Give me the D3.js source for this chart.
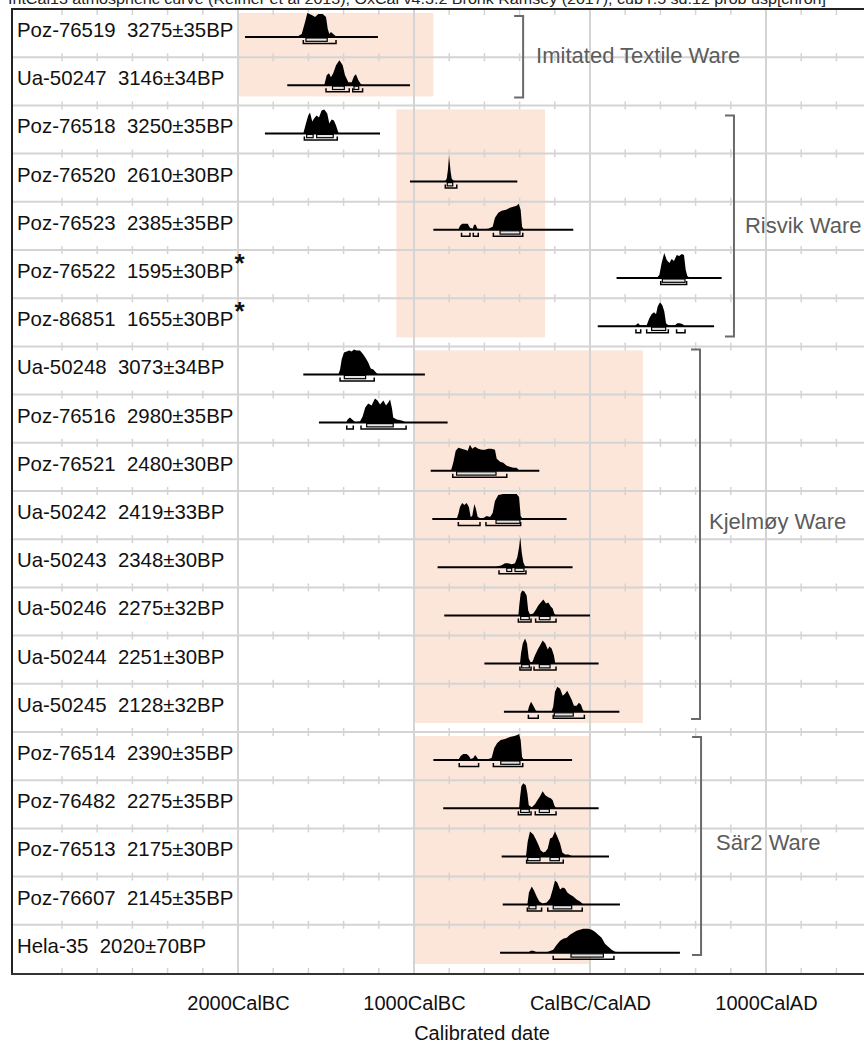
<!DOCTYPE html>
<html><head><meta charset="utf-8">
<script src="https://cdn.jsdelivr.net/npm/d3@7/dist/d3.min.js"></script>
<style>
body{margin:0;background:#fff}
svg{display:block}
text{font-family:"Liberation Sans",Arial,Helvetica,sans-serif}
</style>
</head><body>
<svg id="chart" width="864" height="1046"></svg>
<script>
// ---------- data ----------
const titleText = "IntCal13 atmospheric curve (Reimer et al 2013); OxCal v4.3.2 Bronk Ramsey (2017); cub r:5 sd:12 prob usp[chron]";
const sampleIds = ["Poz-76519","Ua-50247","Poz-76518","Poz-76520","Poz-76523","Poz-76522","Poz-86851",
  "Ua-50248","Poz-76516","Poz-76521","Ua-50242","Ua-50243","Ua-50246","Ua-50244","Ua-50245",
  "Poz-76514","Poz-76482","Poz-76513","Poz-76607","Hela-35"];
const bpDates = ["3275±35BP","3146±34BP","3250±35BP","2610±30BP","2385±35BP","1595±30BP","1655±30BP",
  "3073±34BP","2980±35BP","2480±30BP","2419±33BP","2348±30BP","2275±32BP","2251±30BP","2128±32BP",
  "2390±35BP","2275±35BP","2175±30BP","2145±35BP","2020±70BP"];
const flaggedRows = [5, 6];

// plotted span of each calibrated distribution (calendar years, negative = BC)
const spans = [[-1960,-1205],[-1720,-1023],[-1847,-1193],[-1023,-413],[-890,-95],[151,748],[44,705],
  [-1629,-938],[-1540,-809],[-905,-288],[-896,-133],[-866,-99],[-828,0],[-600,49],[-489,167],
  [-890,-102],[-834,49],[-502,108],[-496,170],[-511,511]];

// probability distributions: [year, relative probability]
const densities = [
  [[-1667,0],[-1638,3],[-1619,15],[-1606,24],[-1581,22],[-1562,20],[-1544,23],[-1519,23],[-1500,20],[-1490,8],[-1481,3],[-1472,5],[-1459,3],[-1439,0]],
  [[-1510,0],[-1496,10],[-1483,12],[-1472,8],[-1459,12],[-1443,20],[-1424,25],[-1405,20],[-1392,10],[-1373,3],[-1354,3],[-1341,9],[-1330,11],[-1316,5],[-1301,1],[-1288,0]],
  [[-1629,0],[-1614,10],[-1601,18],[-1591,21],[-1578,12],[-1568,15],[-1553,18],[-1540,16],[-1525,23],[-1510,24],[-1493,20],[-1481,10],[-1468,14],[-1455,13],[-1443,8],[-1430,1],[-1420,0]],
  [[-824,0],[-814,3],[-807,12],[-801,26],[-792,10],[-786,3],[-777,1],[-757,0]],
  [[-748,0],[-739,4],[-726,6],[-710,6],[-695,6],[-682,2],[-666,1],[-659,5],[-649,5],[-640,1],[-615,0.5],[-578,1],[-553,3],[-540,12],[-521,17],[-502,19],[-477,20],[-455,22],[-436,23],[-417,24],[-405,26],[-394,20],[-386,3],[-375,0]],
  [[379,0],[394,3],[407,15],[422,25],[436,18],[451,15],[464,19],[477,17],[493,23],[507,22],[521,24],[534,23],[544,8],[553,2],[568,0]],
  [[256,0],[265,2],[274,3],[284,1],[322,1],[337,8],[350,12],[364,14],[375,12],[385,20],[398,24],[411,21],[422,15],[432,3],[445,1],[483,1],[496,3],[511,3],[527,2],[540,0]],
  [[-1430,0],[-1420,5],[-1411,15],[-1398,22],[-1382,23],[-1368,24],[-1354,23],[-1341,25],[-1326,24],[-1307,24],[-1288,20],[-1273,16],[-1260,12],[-1246,6],[-1231,5],[-1216,2],[-1203,0]],
  [[-1386,0],[-1377,3],[-1364,5],[-1351,3],[-1335,0.5],[-1307,1],[-1292,6],[-1277,15],[-1260,19],[-1241,17],[-1222,24],[-1207,22],[-1193,18],[-1174,22],[-1159,17],[-1146,20],[-1136,23],[-1125,14],[-1118,5],[-1098,3],[-1070,2],[-1042,0]],
  [[-790,0],[-777,8],[-763,20],[-748,23],[-729,22],[-710,21],[-695,20],[-682,26],[-669,22],[-653,24],[-635,22],[-615,21],[-597,21],[-578,22],[-559,22],[-540,21],[-530,12],[-511,9],[-493,8],[-473,5],[-455,4],[-436,3],[-417,3],[-403,0.5],[-388,0]],
  [[-758,0],[-748,5],[-739,12],[-726,16],[-714,14],[-701,16],[-688,12],[-678,2],[-669,3],[-657,15],[-648,10],[-638,2],[-625,1],[-606,1],[-587,3],[-568,2],[-553,6],[-540,18],[-521,24],[-493,25],[-455,25],[-417,25],[-403,22],[-394,3],[-382,0]],
  [[-549,0],[-521,1],[-502,2],[-483,4],[-465,4],[-445,3],[-426,4],[-413,10],[-403,20],[-396,30],[-388,15],[-379,5],[-369,1],[-341,0]],
  [[-407,0],[-402,10],[-394,22],[-385,25],[-373,24],[-360,20],[-351,5],[-341,1],[-322,2],[-307,6],[-294,10],[-280,13],[-265,16],[-250,12],[-237,13],[-223,9],[-212,7],[-203,2],[-193,0]],
  [[-398,0],[-392,10],[-382,20],[-369,25],[-358,20],[-348,5],[-337,1],[-326,2],[-313,8],[-297,14],[-284,18],[-269,23],[-254,20],[-240,14],[-231,17],[-218,15],[-205,8],[-197,0]],
  [[-354,0],[-347,5],[-335,10],[-322,6],[-307,1],[-284,0.5],[-218,0.5],[-209,5],[-199,20],[-186,25],[-170,23],[-155,16],[-142,18],[-129,21],[-118,17],[-104,12],[-91,6],[-76,6],[-63,9],[-51,7],[-41,2],[-32,0]],
  [[-748,0],[-735,4],[-720,6],[-701,6],[-688,4],[-678,1],[-663,2],[-653,5],[-644,3],[-635,0.5],[-587,0.5],[-559,2],[-544,12],[-527,17],[-507,20],[-483,21],[-455,23],[-430,24],[-413,25],[-403,26],[-394,20],[-386,3],[-375,0]],
  [[-403,0],[-398,10],[-390,22],[-379,25],[-365,23],[-356,15],[-348,3],[-331,1],[-313,4],[-299,8],[-284,12],[-269,17],[-254,13],[-237,11],[-223,10],[-212,8],[-203,3],[-193,0]],
  [[-364,0],[-354,15],[-341,25],[-322,22],[-307,17],[-294,12],[-280,6],[-265,4],[-252,5],[-240,8],[-227,18],[-214,19],[-199,25],[-186,20],[-170,13],[-157,4],[-142,2],[-123,2],[-110,1],[-95,0]],
  [[-356,0],[-347,12],[-331,18],[-318,14],[-303,8],[-288,3],[-269,1],[-246,2],[-227,6],[-212,15],[-199,24],[-186,22],[-170,15],[-155,17],[-142,16],[-129,12],[-114,10],[-95,8],[-76,5],[-57,3],[-41,0.5],[-28,0]],
  [[-351,0],[-337,2],[-322,2],[-303,0.5],[-246,0.5],[-209,3],[-189,8],[-170,12],[-152,14],[-132,15],[-114,18],[-95,20],[-76,22],[-57,23],[-38,24],[-10,24],[10,23],[28,21],[47,18],[66,15],[85,9],[104,6],[123,3],[142,1],[170,0.5],[227,0]]
];

// 68.2% ranges
const ranges68 = [
  [[-1614,-1493]],[[-1463,-1396],[-1341,-1314]],[[-1610,-1573],[-1553,-1459]],[[-811,-780]],[[-511,-398]],
  [[411,540]],[[350,430]],[[-1396,-1275]],[[-1269,-1118]],[[-758,-534]],[[-534,-398]],
  [[-473,-445],[-426,-375]],[[-394,-345],[-288,-227]],[[-388,-345],[-288,-227]],[[-203,-95]],
  [[-507,-398]],[[-394,-345],[-288,-231]],[[-354,-284],[-227,-174]],[[-347,-307],[-209,-104]],[[-108,76]]
];
// 95.4% ranges
const ranges95 = [
  [[-1629,-1443]],[[-1500,-1368],[-1348,-1292]],[[-1623,-1436]],[[-822,-757]],[[-730,-682],[-663,-635],[-549,-382]],
  [[402,549]],[[261,288],[322,445],[492,540]],[[-1420,-1226]],[[-1382,-1345],[-1301,-1045]],[[-780,-473]],
  [[-748,-625],[-591,-394]],[[-517,-364]],[[-407,-335],[-309,-193]],[[-398,-335],[-318,-193]],[[-350,-294],[-209,-32]],
  [[-743,-633],[-549,-382]],[[-407,-335],[-311,-193]],[[-360,-152]],[[-356,-275],[-240,-44]],[[-209,136]]
];

// ware groups
const groupNames = ["Imitated Textile Ware","Risvik Ware","Kjelmøy Ware","Sär2 Ware"];
const groupRows = [[0,1],[2,6],[7,14],[15,19]];
const groupPeriods = [[-2000,-890],[-1100,-255],[-1000,300],[-1000,0]];
const groupBracketYears = [-380, 818, 625, 631];

// axis
const axisTickValues = [-2000,-1000,0,1000];
const axisTickLabels = ["2000CalBC","1000CalBC","CalBC/CalAD","1000CalAD"];
const axisTitle = "Calibrated date";

// ---------- layout / style ----------
const frameLeft = 12, frameTop = 9, frameBottom = 973, axisY = 974;
const grid = "#d4d4d4", shade = "#fce5d9", groupInk = "#6a6a6a";
const bracketInsets = [[7,8],[10,10],[3,13],[5,18]];
const labelOffsets = [[13,-1],[11,0],[9,-13],[15,-4]];

const svg = d3.select("#chart");
const W = 864;
const x = d3.scaleLinear().domain([-2000, 0]).range([238, 590]);
const y = d3.scaleBand().domain(d3.range(sampleIds.length)).range([frameTop, frameBottom]);
const rh = y.bandwidth();
const hScale = d3.scaleLinear().domain([0, 25]).range([0, 25]);
const baseOff = 28;

svg.append("rect").attr("width", W).attr("height", 1046).attr("fill", "#fff");

// title (clipped at top, as in the source figure)
svg.append("text").attr("x", 8).attr("y", 3.5).attr("font-size", 14)
  .attr("textLength", 818).attr("lengthAdjust", "spacingAndGlyphs")
  .attr("fill", "#222").text(titleText);

// period shading
groupRows.forEach((r, gi) => {
  const y0 = y(r[0]) + 4, y1 = y(r[1]) + rh - 9;
  svg.append("rect")
    .attr("x", x(groupPeriods[gi][0])).attr("width", x(groupPeriods[gi][1]) - x(groupPeriods[gi][0]))
    .attr("y", y0).attr("height", y1 - y0).attr("fill", shade);
});

// horizontal grid lines
const gGrid = svg.append("g");
for (let k = 1; k < sampleIds.length; k++) {
  gGrid.append("line").attr("x1", frameLeft).attr("x2", W).attr("y1", y(k)).attr("y2", y(k))
    .attr("stroke", grid).attr("stroke-width", 2);
}
// vertical major grid lines
axisTickValues.forEach(v => {
  gGrid.append("line").attr("x1", x(v)).attr("x2", x(v)).attr("y1", frameTop).attr("y2", axisY)
    .attr("stroke", grid).attr("stroke-width", 2);
});
// minor ticks every 200 years
const minor = d3.range(-3000, 1801, 200).filter(v => !axisTickValues.includes(v));
minor.forEach(v => {
  const px = x(v);
  gGrid.append("line").attr("x1", px).attr("x2", px).attr("y1", frameTop).attr("y2", frameTop + 6)
    .attr("stroke", grid).attr("stroke-width", 1.5);
  for (let k = 1; k < sampleIds.length; k++) {
    gGrid.append("line").attr("x1", px).attr("x2", px).attr("y1", y(k) - 4).attr("y2", y(k) + 4)
      .attr("stroke", grid).attr("stroke-width", 1.5);
  }
  gGrid.append("line").attr("x1", px).attr("x2", px).attr("y1", axisY - 6).attr("y2", axisY)
    .attr("stroke", grid).attr("stroke-width", 1.5);
});

// group brackets and labels
groupRows.forEach((r, gi) => {
  const bx = x(groupBracketYears[gi]);
  const y0 = y(r[0]) + bracketInsets[gi][0], y1 = y(r[1]) + rh - bracketInsets[gi][1];
  svg.append("path").attr("d", `M${bx-9},${y0}H${bx}V${y1}H${bx-9}`)
    .attr("fill", "none").attr("stroke", groupInk).attr("stroke-width", 2);
  svg.append("text").attr("x", bx + labelOffsets[gi][0]).attr("y", (y0 + y1) / 2 + labelOffsets[gi][1] + 7.5)
    .attr("font-size", 22).attr("fill", "#5c5c5c").text(groupNames[gi]);
});

// distributions
const area = d3.area().x(d => x(d[0])).y0(0).y1(d => -hScale(d[1]));
sampleIds.forEach((id, i) => {
  const g = svg.append("g").attr("transform", `translate(0,${y(i) + baseOff})`);
  g.append("path").attr("d", area(densities[i])).attr("fill", "#000");
  g.append("line").attr("x1", x(spans[i][0])).attr("x2", x(spans[i][1]))
    .attr("stroke", "#000").attr("stroke-width", 2);
  ranges95[i].forEach(r => {
    g.append("path").attr("d", `M${x(r[0])},3V6.5H${x(r[1])}V3`)
      .attr("fill", "none").attr("stroke", "#000").attr("stroke-width", 1.5);
  });
  ranges68[i].forEach(r => {
    g.append("rect").attr("x", x(r[0])).attr("width", x(r[1]) - x(r[0])).attr("y", 1).attr("height", 3.3)
      .attr("fill", "#e4e4e4").attr("stroke", "#000").attr("stroke-width", 1.2);
  });
  // label
  const t = svg.append("text").attr("x", 17).attr("y", y(i) + baseOff).attr("font-size", 20.4)
    .attr("fill", "#111").style("white-space", "pre");
  t.append("tspan").text(id + "  " + bpDates[i]);
  if (flaggedRows.includes(i)) {
    t.append("tspan").attr("dx", 1).attr("dy", -6).attr("font-size", 26).attr("font-weight", "bold").text("*");
  }
});

// frame
svg.append("line").attr("x1", frameLeft).attr("x2", frameLeft).attr("y1", frameTop).attr("y2", axisY)
  .attr("stroke", "#222").attr("stroke-width", 2);
svg.append("line").attr("x1", frameLeft - 1).attr("x2", W).attr("y1", frameTop).attr("y2", frameTop)
  .attr("stroke", "#222").attr("stroke-width", 2.2);
svg.append("line").attr("x1", frameLeft - 1).attr("x2", W).attr("y1", axisY).attr("y2", axisY)
  .attr("stroke", "#333").attr("stroke-width", 2.2);

// x axis labels
const axis = d3.axisBottom(x).tickValues(axisTickValues)
  .tickFormat((d, i) => axisTickLabels[i]).tickSize(0).tickPadding(22);
const ga = svg.append("g").attr("transform", `translate(0,${axisY})`).call(axis);
ga.select(".domain").remove();
ga.selectAll("text").attr("font-size", 20).attr("fill", "#111")
  .attr("font-family", '"Liberation Sans",Arial,sans-serif');

svg.append("text").attr("x", 482).attr("y", 1040).attr("text-anchor", "middle")
  .attr("font-size", 20).attr("fill", "#111").text(axisTitle);
</script>
</body></html>
